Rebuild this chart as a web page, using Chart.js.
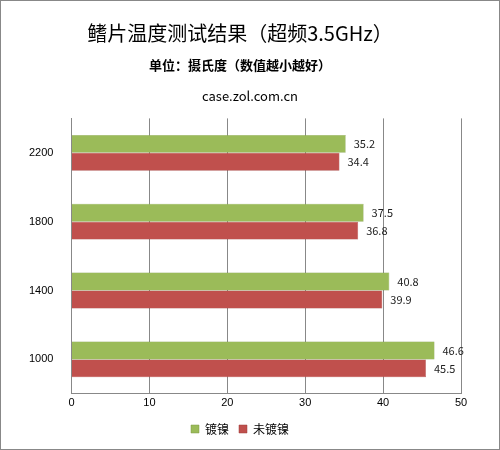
<!DOCTYPE html>
<html><head><meta charset="utf-8">
<script src="https://cdn.jsdelivr.net/npm/chart.js@4"></script>
<style>html,body{margin:0;padding:0;background:#fff}#w{width:498px;height:448px;border:1px solid #888;}</style>
</head><body><div id="w"><canvas id="c" width="498" height="448"></canvas></div>
<script>
const categories = ['2200','1800','1400','1000'];
const seriesNames = ['镀镍','未镀镍'];
const plated = [35.2,37.5,40.8,46.6];
const unplated = [34.4,36.8,39.9,45.5];
const xTicks = [0,10,20,30,40,50];
const sourceText = 'case.zol.com.cn';
const fontFam = '"Noto Sans CJK SC","Noto Sans",sans-serif';
const labelPlugin = {id:'lbl', afterDatasetsDraw(chart){
  const ctx=chart.ctx; ctx.save(); ctx.font='11px '+fontFam; ctx.fillStyle='#222'; ctx.textBaseline='middle';
  chart.data.datasets.forEach((ds,i)=>{chart.getDatasetMeta(i).data.forEach((b,j)=>{ctx.fillText(ds.data[j].toFixed(1), b.x+8, b.y);});});
  ctx.font='13px '+fontFam; ctx.fillStyle='#000'; ctx.textAlign='center';
  ctx.fillText(sourceText, chart.width/2, 95);
  ctx.restore();}};
new Chart(document.getElementById('c'),{type:'bar',
 data:{labels:categories,datasets:[
  {label:seriesNames[0],data:plated,backgroundColor:'#9BBB59',borderColor:'#7E9A45',borderWidth:0.5,barPercentage:1,categoryPercentage:0.52},
  {label:seriesNames[1],data:unplated,backgroundColor:'#C0504D',borderColor:'#9E3C3A',borderWidth:0.5,barPercentage:1,categoryPercentage:0.52}]},
 options:{indexAxis:'y',responsive:false,animation:false,devicePixelRatio:1,
  layout:{padding:{left:18,right:38,top:8,bottom:4}},
  plugins:{
   title:{display:true,text:'鳍片温度测试结果（超频3.5GHz）',font:{family:fontFam,size:20,weight:'normal'},color:'#000',padding:{top:12,bottom:8}},
   subtitle:{display:true,text:['单位：摄氏度（数值越小越好）',' '],font:{family:fontFam,size:13,weight:'bold',lineHeight:1.9},color:'#000',padding:{bottom:16}},
   legend:{position:'bottom',labels:{boxWidth:8,boxHeight:8,font:{family:fontFam,size:12},color:'#000'}},
   tooltip:{enabled:false}},
  scales:{
   x:{min:0,max:50,ticks:{stepSize:10,color:'#000',font:{size:11},callback:(v)=>xTicks.includes(v)?v:''},grid:{color:'#888',drawTicks:false},border:{color:'#888'}},
   y:{ticks:{color:'#000',font:{size:11},padding:10},grid:{display:false},border:{color:'#888'}}}},
 plugins:[labelPlugin]});
</script></body></html>
